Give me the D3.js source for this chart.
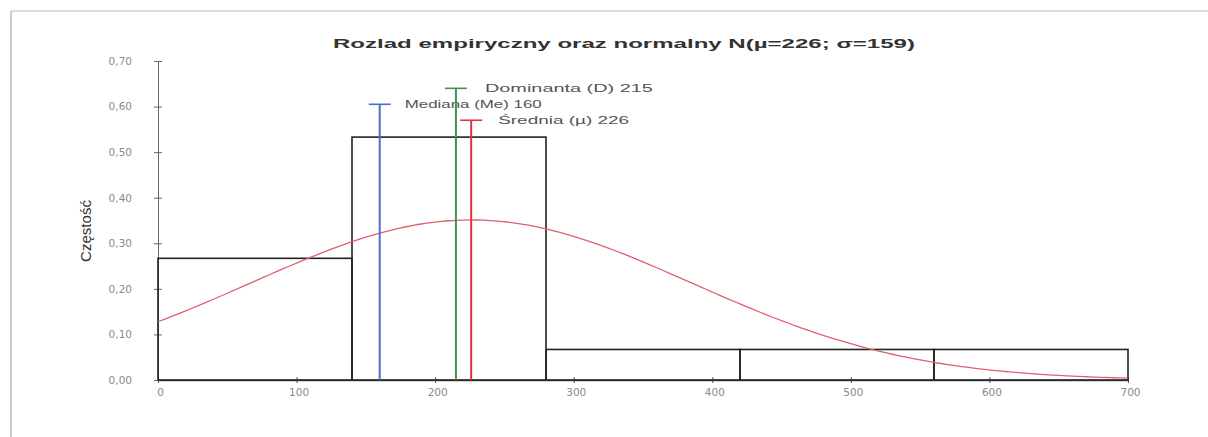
<!DOCTYPE html>
<html><head><meta charset="utf-8">
<script src="https://cdn.jsdelivr.net/npm/d3@7"></script>
<style>body{margin:0;background:#fff}svg{display:block}</style>
</head><body>
<script>
// Data
const binEdges = [0, 140, 280, 420, 560, 700];
const binFreq = [0.267, 0.533, 0.067, 0.067, 0.067];
const xTicks = [0, 100, 200, 300, 400, 500, 600, 700];
const yTicks = [0, 0.1, 0.2, 0.3, 0.4, 0.5, 0.6, 0.7];
const statNames = ["Mediana (Me) 160", "Dominanta (D) 215", "Średnia (µ) 226"];
const statValues = [160, 215, 226];
const statHeights = [0.605, 0.64, 0.57];
const statColors = ["#4a6fd2", "#3c9552", "#e4303f"];
const normMu = 226, normSigma = 159, binWidth = 140;

const W = 1208, H = 437;
const svg = d3.select("body").append("svg").attr("width", W).attr("height", H)
  .style("font-family", "Arial, 'Liberation Sans', sans-serif");

// outer frame lines
svg.append("line").attr("x1", 11).attr("x2", W).attr("y1", 11).attr("y2", 11).attr("stroke", "#bbb").attr("stroke-width", 1);
svg.append("line").attr("x1", 11).attr("x2", 11).attr("y1", 11).attr("y2", H).attr("stroke", "#999").attr("stroke-width", 1);

const x = d3.scaleLinear().domain([0, 700]).range([158, 1128]);
const y = d3.scaleLinear().domain([0, 0.7]).range([380, 61]);

// title
svg.append("text").attr("x", 333).attr("y", 48)
  .attr("font-size", 13).attr("font-weight", "bold").attr("fill", "#333")
  .attr("textLength", 582).attr("lengthAdjust", "spacingAndGlyphs")
  .text("Rozlad empiryczny  oraz normalny N(µ=226; σ=159)");

// axes
const yAxis = d3.axisLeft(y).tickValues(yTicks).tickSizeInner(4).tickSizeOuter(0)
  .tickFormat(d => d3.format(".2f")(d).replace(".", ","));
const gy = svg.append("g").attr("transform", `translate(${x(0)},0)`).call(yAxis);
gy.select(".domain").attr("stroke", "#666");
gy.selectAll(".tick line").attr("stroke", "#666").attr("x2", 4).attr("x1", -4);
gy.selectAll(".tick text").attr("fill", "#8a8a8a").attr("x", -26)
  .attr("font-family", "'DejaVu Sans', sans-serif").attr("font-size", 10.5);

const xAxis = d3.axisBottom(x).tickValues(xTicks).tickSizeInner(4).tickSizeOuter(0).tickFormat(d3.format("d"));
const gx = svg.append("g").attr("transform", `translate(0,${y(0)})`).call(xAxis);
gx.select(".domain").attr("stroke", "#555").attr("stroke-width", 1.5);
gx.selectAll(".tick line").attr("stroke", "#555").attr("y1", -3).attr("y2", 3);
gx.selectAll(".tick text").attr("fill", "#8a8a8a").attr("y", 9)
  .attr("font-family", "'DejaVu Sans', sans-serif").attr("font-size", 10.5).attr("dx", 2);

// y label
svg.append("text").attr("transform", `translate(91,231) rotate(-90)`)
  .attr("text-anchor", "middle").attr("font-size", 15).attr("fill", "#333")
  .attr("font-family", "'Liberation Sans Narrow', 'Liberation Sans', Arial, sans-serif")
  .attr("textLength", 62).attr("lengthAdjust", "spacingAndGlyphs")
  .text("Częstość");

// histogram bars
const bins = binFreq.map((f, i) => ({x0: binEdges[i], x1: binEdges[i + 1], f}));
svg.append("g").selectAll("rect").data(bins).join("rect")
  .attr("x", d => x(d.x0)).attr("y", d => y(d.f))
  .attr("width", d => x(d.x1) - x(d.x0)).attr("height", d => y(0) - y(d.f))
  .attr("fill", "none").attr("stroke", "#222").attr("stroke-width", 1.6);

// normal curve (N(226,159) density scaled by bin width)
const curve = d3.range(0, 701, 5).map(v => [v,
  binWidth * Math.exp(-0.5 * Math.pow((v - normMu) / normSigma, 2)) / (normSigma * Math.sqrt(2 * Math.PI))]);
svg.append("path").datum(curve)
  .attr("d", d3.line().x(d => x(d[0])).y(d => y(d[1])).curve(d3.curveBasis))
  .attr("fill", "none").attr("stroke", "#e0606e").attr("stroke-width", 1.3);

// statistic lines
const stats = statValues.map((v, i) => ({v, h: statHeights[i], c: statColors[i], name: statNames[i]}));
const sg = svg.append("g").selectAll("g").data(stats).join("g");
sg.append("line").attr("x1", d => x(d.v)).attr("x2", d => x(d.v))
  .attr("y1", d => y(d.h)).attr("y2", y(0)).attr("stroke", d => d.c).attr("stroke-width", 2);
sg.append("line").attr("x1", d => x(d.v) - 11).attr("x2", d => x(d.v) + 11)
  .attr("y1", d => y(d.h)).attr("y2", d => y(d.h)).attr("stroke", d => d.c).attr("stroke-width", 1.6);

const labelDx = [25, 29, 27];
const labelLen = [137, 168, 131];
sg.append("text").attr("x", (d, i) => x(d.v) + labelDx[i]).attr("y", d => y(d.h) + 4)
  .attr("font-size", 11).attr("fill", "#555")
  .attr("textLength", (d, i) => labelLen[i]).attr("lengthAdjust", "spacingAndGlyphs")
  .text(d => d.name);
</script>
</body></html>
